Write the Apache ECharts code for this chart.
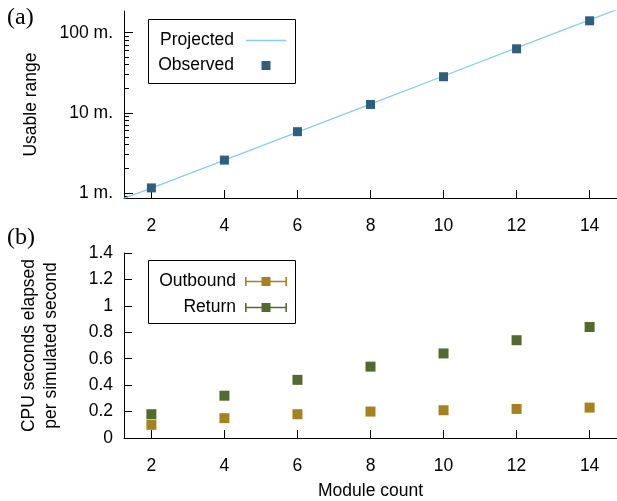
<!DOCTYPE html>
<html>
<head>
<meta charset="utf-8">
<script src="https://cdn.jsdelivr.net/npm/echarts@6/dist/echarts.min.js"></script>
<style>
  html, body { margin: 0; padding: 0; background: #fff; }
  #chart { width: 617px; height: 501px; }
</style>
</head>
<body>
<div id="chart"></div>
<script>
// Module counts shared by both panels
const modules = [2, 4, 6, 8, 10, 12, 14];
const xTicks = [2, 4, 6, 8, 10, 12, 14];

// (a) usable range, metres (log scale)
const observedRange = [1.15, 2.56, 5.8, 12.7, 28.2, 63, 141];
const projectedX = [1.25, 2, 4, 6, 8, 10, 12, 14, 14.75];
const projectedRange = [0.85, 1.14, 2.56, 5.73, 12.85, 28.8, 64.6, 144.8, 195];
const rangeMajorTicks = [1, 10, 100];
const rangeMinorTicks = [0.9, 2, 3, 4, 5, 6, 7, 8, 9, 20, 30, 40, 50, 60, 70, 80, 90];

// (b) CPU seconds per simulated second
const outbound = [0.10, 0.15, 0.18, 0.20, 0.21, 0.22, 0.23];
const returnTrip = [0.18, 0.32, 0.44, 0.54, 0.64, 0.74, 0.84];
const cpuTicks = [0, 0.2, 0.4, 0.6, 0.8, 1, 1.2, 1.4];

const FONT = 'Liberation Sans';
const FS = 17.5;
const pairs = (xs, ys) => xs.map((x, i) => [x, ys[i]]);

// legend glyphs; zero-area end points keep the 40x9 bounds so shapes are not stretched
const errIcon = 'path://M0,0h1.6v9h-1.6z M40.4,0h1.6v9h-1.6z M0,3.7h42v1.6h-42z M16.5,0h9v9h-9z';
const sqIcon = 'path://M0,0L0,0z M40,9L40,9z M15.5,0h9v9h-9z';
const lineIcon = 'path://M0,0L0,0z M40,9L40,9z M0,3.85h40v1.3h-40z';

const xAxisBase = {
  type: 'value', min: 1.25, max: 14.75,
  axisLine: { lineStyle: { color: '#000', width: 1 } },
  axisTick: { inside: true, length: 8, customValues: xTicks, lineStyle: { color: '#000' } },
  axisLabel: { customValues: xTicks, color: '#000', fontFamily: FONT, fontSize: FS, margin: 19 },
  splitLine: { show: false }
};

const chart = echarts.init(document.getElementById('chart'), null, { renderer: 'canvas' });
chart.setOption({
  animation: false,
  backgroundColor: '#fff',
  textStyle: { fontFamily: FONT },
  grid: [
    { left: 124, right: 0, top: 11, height: 187 },
    { left: 124, right: 0, top: 253, height: 186 }
  ],
  xAxis: [
    Object.assign({}, xAxisBase, { gridIndex: 0 }),
    Object.assign({}, xAxisBase, {
      gridIndex: 1,
      name: 'Module count', nameLocation: 'middle', nameGap: 44,
      nameTextStyle: { color: '#000', fontFamily: FONT, fontSize: FS }
    })
  ],
  yAxis: [
    {
      type: 'log', gridIndex: 0, min: 0.86, max: 187, logBase: 10,
      name: 'Usable range', nameLocation: 'middle', nameGap: 84,
      nameTextStyle: { color: '#000', fontFamily: FONT, fontSize: FS },
      axisLine: { show: true, lineStyle: { color: '#000', width: 1 } },
      axisTick: { inside: true, length: 9, customValues: rangeMajorTicks, lineStyle: { color: '#000' } },
      axisLabel: { customValues: rangeMajorTicks, color: '#000', fontFamily: FONT, fontSize: FS, margin: 11,
                   formatter: v => v + ' m.' },
      splitLine: { show: false }
    },
    {
      type: 'log', gridIndex: 0, min: 0.86, max: 187, logBase: 10, position: 'left',
      axisLine: { show: false },
      axisTick: { inside: true, length: 5, customValues: rangeMinorTicks, lineStyle: { color: '#000' } },
      axisLabel: { show: false },
      splitLine: { show: false }
    },
    {
      type: 'value', gridIndex: 1, min: 0, max: 1.4, interval: 0.2,
      name: 'CPU seconds elapsed\nper simulated second', nameLocation: 'middle', nameGap: 62,
      nameTextStyle: { color: '#000', fontFamily: FONT, fontSize: FS, lineHeight: 22 },
      axisLine: { show: true, lineStyle: { color: '#000', width: 1 } },
      axisTick: { inside: true, length: 8, customValues: cpuTicks, lineStyle: { color: '#000' } },
      axisLabel: { customValues: cpuTicks, color: '#000', fontFamily: FONT, fontSize: FS, margin: 11 },
      splitLine: { show: false }
    }
  ],
  legend: [
    {
      data: [{ name: 'Projected', icon: lineIcon }, { name: 'Observed', icon: sqIcon }],
      orient: 'vertical', align: 'right', right: 331, top: 31.5,
      itemWidth: 40, itemHeight: 9, itemGap: 7, padding: 0,
      textStyle: { color: '#000', fontFamily: FONT, fontSize: FS, padding: [0, 7, 0, 0] }
    },
    {
      data: [{ name: 'Outbound', icon: errIcon }, { name: 'Return', icon: errIcon }],
      orient: 'vertical', align: 'right', right: 330, top: 272.5,
      itemWidth: 42, itemHeight: 9, itemGap: 8, padding: 0,
      textStyle: { color: '#000', fontFamily: FONT, fontSize: FS, padding: [0, 4, 0, 0] }
    }
  ],
  graphic: [
    { type: 'rect', shape: { x: 148.5, y: 19.5, width: 147, height: 64 },
      style: { fill: 'none', stroke: '#000', lineWidth: 1 } },
    { type: 'rect', shape: { x: 148.5, y: 260.5, width: 147, height: 63 },
      style: { fill: 'none', stroke: '#000', lineWidth: 1 } },
    { type: 'text', left: 7, top: 6,
      style: { text: '(a)', font: '24px "Liberation Serif"', fill: '#000' } },
    { type: 'text', left: 7, top: 226,
      style: { text: '(b)', font: '24px "Liberation Serif"', fill: '#000' } }
  ],
  series: [
    {
      name: 'Projected', type: 'line', xAxisIndex: 0, yAxisIndex: 0,
      data: pairs(projectedX, projectedRange), showSymbol: false, symbol: 'none',
      lineStyle: { color: '#87ceeb', width: 1.3 }, itemStyle: { color: '#87ceeb' },
      clip: true, z: 2
    },
    {
      name: 'Observed', type: 'scatter', xAxisIndex: 0, yAxisIndex: 0,
      data: pairs(modules, observedRange), symbol: 'rect', symbolSize: 9,
      itemStyle: { color: '#2f5f80', opacity: 1 }, z: 3
    },
    {
      name: 'Outbound', type: 'scatter', xAxisIndex: 1, yAxisIndex: 2,
      data: pairs(modules, outbound), symbol: 'rect', symbolSize: 10,
      itemStyle: { color: '#a5821f', opacity: 1 }
    },
    {
      name: 'Return', type: 'scatter', xAxisIndex: 1, yAxisIndex: 2,
      data: pairs(modules, returnTrip), symbol: 'rect', symbolSize: 10,
      itemStyle: { color: '#54692d', opacity: 1 }
    }
  ]
});
</script>
</body>
</html>
